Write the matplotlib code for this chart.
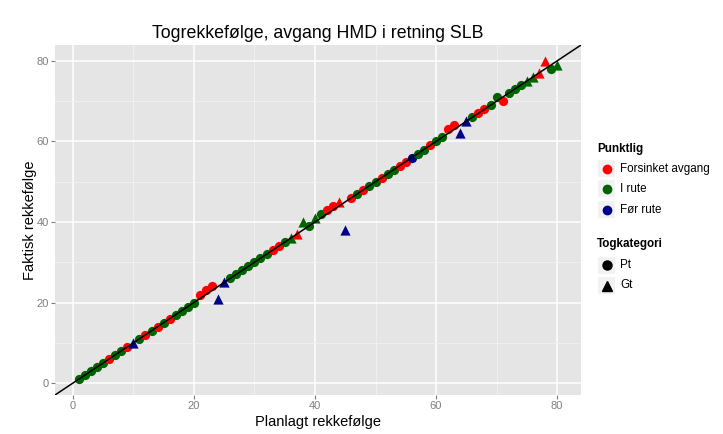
import matplotlib
matplotlib.use("Agg")
import matplotlib.pyplot as plt
from matplotlib.patches import Rectangle
from matplotlib.lines import Line2D

plt.rcParams['font.family'] = ['Liberation Sans', 'DejaVu Sans']

# ---------------- data ----------------
planned = list(range(1, 81))
actual = [1, 2, 3, 4, 5, 6, 7, 8, 9, 10,
          11, 12, 13, 14, 15, 16, 17, 18, 19, 20,
          22, 23, 24, 21, 25, 26, 27, 28, 29, 30,
          31, 32, 33, 34, 35, 36, 37, 40, 39, 41,
          42, 43, 44, 45, 38, 46, 47, 48, 49, 50,
          51, 52, 53, 54, 55, 56, 57, 58, 59, 60,
          61, 63, 64, 62, 65, 66, 67, 68, 69, 71,
          70, 72, 73, 74, 75, 76, 77, 80, 78, 79]
punktlig = ["I rute", "I rute", "I rute", "I rute", "I rute", "Forsinket avgang", "I rute", "I rute", "Forsinket avgang", "Før rute",
            "I rute", "Forsinket avgang", "I rute", "Forsinket avgang", "I rute", "Forsinket avgang", "I rute", "I rute", "I rute", "I rute",
            "Forsinket avgang", "Forsinket avgang", "Forsinket avgang", "Før rute", "Før rute", "I rute", "I rute", "I rute", "I rute", "I rute",
            "I rute", "I rute", "Forsinket avgang", "Forsinket avgang", "I rute", "I rute", "Forsinket avgang", "I rute", "I rute", "I rute",
            "I rute", "Forsinket avgang", "Forsinket avgang", "Forsinket avgang", "Før rute", "Forsinket avgang", "I rute", "Forsinket avgang", "I rute", "I rute",
            "Forsinket avgang", "I rute", "I rute", "Forsinket avgang", "Forsinket avgang", "Før rute", "I rute", "I rute", "Forsinket avgang", "I rute",
            "I rute", "Forsinket avgang", "Forsinket avgang", "Før rute", "Før rute", "I rute", "Forsinket avgang", "Forsinket avgang", "I rute", "I rute",
            "Forsinket avgang", "I rute", "I rute", "I rute", "I rute", "I rute", "Forsinket avgang", "Forsinket avgang", "I rute", "I rute"]
gt_trains = [10, 24, 25, 36, 37, 38, 40, 44, 45, 64, 65, 75, 76, 77, 78, 80]
kategori = ["Gt" if p in gt_trains else "Pt" for p in planned]

punkt_levels = ["Forsinket avgang", "I rute", "Før rute"]
kat_levels = ["Pt", "Gt"]
title = "Togrekkefølge, avgang HMD i retning SLB"
xlabel = "Planlagt rekkefølge"
ylabel = "Faktisk rekkefølge"
ticks = [0, 20, 40, 60, 80]

# ---------------- style ----------------
colors = {"Forsinket avgang": "#FF0000", "I rute": "#006400", "Før rute": "#00008B"}
markers = {"Pt": "o", "Gt": "^"}
sizes = {"Pt": 44, "Gt": 54}

W, H = 723, 434
fig = plt.figure(figsize=(W / 100, H / 100), dpi=100)
L, R, T, B = 55, 581, 45, 395
ax = fig.add_axes([L / W, 1 - B / H, (R - L) / W, (B - T) / H])
ax.set_facecolor("#E5E5E5")

lo, hi = 1, 80
pad = 0.05 * (hi - lo)
ax.set_xlim(lo - pad, hi + pad)
ax.set_ylim(lo - pad, hi + pad)

ax.set_xticks(ticks)
ax.set_yticks(ticks)
minor = [(a + b) / 2 for a, b in zip(ticks[:-1], ticks[1:])]
ax.set_xticks(minor, minor=True)
ax.set_yticks(minor, minor=True)
ax.grid(True, which="major", color="white", linewidth=1.1)
ax.grid(True, which="minor", color="#F2F2F2", linewidth=0.6)
ax.set_axisbelow(True)
for s in ax.spines.values():
    s.set_visible(False)
ax.tick_params(which="major", length=3, width=0.8, color="#7F7F7F",
               labelsize=8, labelcolor="#7F7F7F", pad=1.5)
ax.tick_params(which="minor", length=0)

for x, y, p, k in zip(planned, actual, punktlig, kategori):
    ax.scatter([x], [y], s=sizes[k], marker=markers[k], c=colors[p],
               linewidths=0, zorder=3)

ax.axline((0, 0), slope=1, color="black", linewidth=1.1, zorder=4)

fig.text((L + R) / 2 / W, 1 - 33 / H, title, ha="center", va="center", fontsize=12.8)
fig.text((L + R) / 2 / W, 1 - 422 / H, xlabel, ha="center", va="center", fontsize=10.5)
fig.text(30 / W, 1 - (T + B) / 2 / H, ylabel, ha="center", va="center",
         rotation=90, fontsize=10.5)

# ---------------- legends ----------------
def fx(px):
    return px / W

def fy(py):
    return 1 - py / H

title_txt = {"p": "Punktlig", "k": "Togkategori"}

def legend_block(title_y, first_y, labels, kind):
    fig.text(fx(597), fy(title_y), title_txt[kind], ha="left", va="center",
             fontsize=8.4, fontweight="bold")
    for i, lab in enumerate(labels):
        cy = first_y + i * 20.5
        fig.add_artist(Rectangle((fx(598), fy(cy + 8.5)), 17 / W, 17 / H,
                                 transform=fig.transFigure, facecolor="#F2F2F2",
                                 edgecolor="none"))
        if kind == "p":
            fig.add_artist(Line2D([fx(606.5)], [fy(cy)], marker="o", markersize=6,
                                  color=colors[lab], linestyle="none",
                                  transform=fig.transFigure))
        else:
            fig.add_artist(Line2D([fx(606.5)], [fy(cy)], marker=markers[lab],
                                  markersize=6.5, color="black", linestyle="none",
                                  transform=fig.transFigure))
        fig.text(fx(620), fy(cy), lab, ha="left", va="center", fontsize=8.4)

legend_block(149, 168.5, punkt_levels, "p")
legend_block(244, 265, kat_levels, "k")

fig.savefig("out.png", dpi=100)
